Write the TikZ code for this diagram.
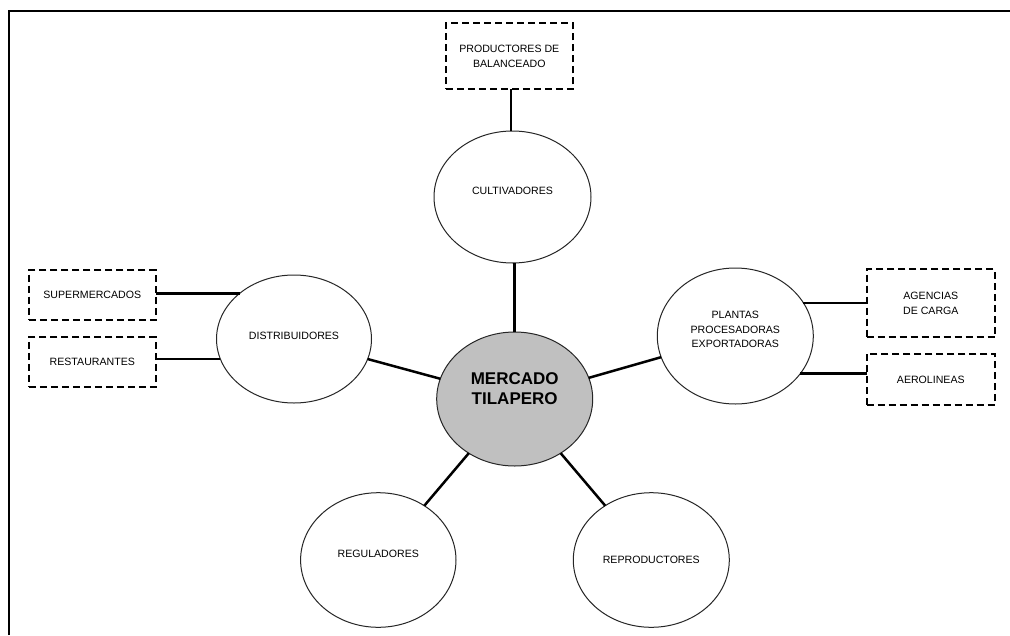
\documentclass[tikz,border=0pt]{standalone}
\usepackage{fontspec}
\setmainfont{Liberation Sans}
\usetikzlibrary{shapes.geometric}
\definecolor{hubgray}{RGB}{192,192,192}
\tikzset{
  ell/.style={ellipse, draw=black!85, line width=1pt, fill=white, inner sep=0pt, outer sep=0pt},
  dbox/.style={rectangle, draw=black, line width=2pt, dash pattern=on 7pt off 4pt, inner sep=0pt, outer sep=0pt,
    font=\fontsize{10.6}{15.5}\selectfont, align=center},
  txt/.style={inner sep=0pt, font=\fontsize{10.6}{14.7}\selectfont, align=center},
  conn/.style={line width=2.5pt, line cap=butt},
  frameline/.style={line width=1.8pt}
}
\begin{document}
\begin{tikzpicture}[x=1pt,y=-1pt]
\useasboundingbox (0,0) rectangle (1010,635);
\fill[white] (0,0) rectangle (1010,635);
\draw[frameline] (9,635) -- (9,11) -- (1010,11);

% ellipses
\node[ell, minimum width=157pt, minimum height=132pt] (cult) at (512.5,197) {};
\node[ell, minimum width=156pt, minimum height=134pt, fill=hubgray] (merc) at (514.7,399) {};
\node[ell, minimum width=155pt, minimum height=128pt] (dist) at (294,339) {};
\node[ell, minimum width=156pt, minimum height=136pt] (plan) at (735.3,336) {};
\node[ell, minimum width=155.4pt, minimum height=134.6pt] (reg) at (378.3,560) {};
\node[ell, minimum width=156pt, minimum height=134.6pt] (rep) at (651.3,560) {};

% ellipse texts
\node[txt] (cultT) at ([yshift=6pt]cult.center) {CULTIVADORES};
\node[txt, font=\fontsize{17}{20}\selectfont\bfseries] (mercT) at ([yshift=10.5pt]merc.center) {MERCADO\\TILAPERO};
\node[txt] (distT) at ([yshift=3pt]dist.center) {DISTRIBUIDORES};
\node[txt] (planT) at ([yshift=6.5pt]plan.center) {PLANTAS\\PROCESADORAS\\EXPORTADORAS};
\node[txt] (regT) at ([yshift=6.3pt]reg.center) {REGULADORES};
\node[txt] (repT) at (rep.center) {REPRODUCTORES};

% dashed boxes
\node[dbox, minimum width=127pt, minimum height=66pt] (prod) at (509.3,56.3) {PRODUCTORES DE\\BALANCEADO};
\node[dbox, minimum width=126.7pt, minimum height=50pt] (sup) at (92.3,295) {SUPERMERCADOS};
\node[dbox, minimum width=126.7pt, minimum height=50pt] (rest) at (92.3,362.3) {RESTAURANTES};
\node[dbox, minimum width=128.3pt, minimum height=68pt] (agen) at (930.8,303.3) {AGENCIAS\\DE CARGA};
\node[dbox, minimum width=128.3pt, minimum height=51pt] (aero) at (930.8,379.5) {AEROLINEAS};

% connectors
\coordinate (cultTop) at ([xshift=1.7pt]cult.north -| prod.south);
\draw[conn] (prod.south -| cultTop) -- (cultTop);
\draw[conn] (merc.north) -- (merc.north |- cult.south);
\draw[conn] (dist) -- (merc);
\draw[conn] (plan) -- (merc);
\draw[conn] (reg) -- (merc);
\draw[conn] (rep) -- (merc);
\draw[conn] (dist.140 -| sup.east) -- (dist.140);
\draw[conn] (dist.195 -| rest.east) -- (dist.195);
\draw[conn] (plan.26 -| agen.west) -- (plan.26);
\draw[conn] (plan.-30 -| aero.west) -- (plan.-30);
\end{tikzpicture}
\end{document}
